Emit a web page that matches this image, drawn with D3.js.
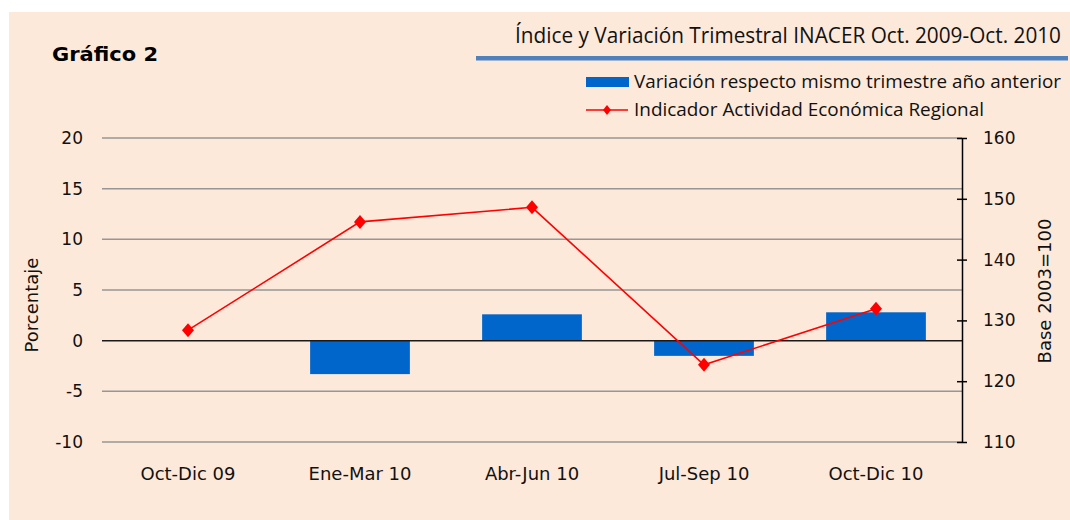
<!DOCTYPE html>
<html>
<head>
<meta charset="utf-8">
<script src="https://cdn.jsdelivr.net/npm/d3@7"></script>
<style>
  html, body { margin: 0; padding: 0; background: #ffffff; }
  svg { display: block; }
  .narrow { font-family: "Open Sans", "Liberation Sans", sans-serif; }
  .verd { font-family: "DejaVu Sans", Verdana, sans-serif; }
</style>
</head>
<body>
<svg id="plot"></svg>
<script>
// quarters and values
const quarters = ["Oct-Dic 09", "Ene-Mar 10", "Abr-Jun 10", "Jul-Sep 10", "Oct-Dic 10"];
const variacion = [null, -3.3, 2.6, -1.5, 2.8];      // % (bars)
const inacer = [128.4, 146.2, 148.6, 122.7, 131.9];  // index (line)
const leftTicks = [-10, -5, 0, 5, 10, 15, 20];
const rightTicks = [110, 120, 130, 140, 150, 160];

const W = 1070, H = 520;
const plot = { left: 102, right: 962, top: 138, bottom: 442 };

const svg = d3.select("#plot").attr("width", W).attr("height", H);

// background panel
svg.append("rect")
  .attr("x", 9).attr("y", 12)
  .attr("width", W - 9).attr("height", H - 12)
  .attr("fill", "#FDE9DA");

const x = d3.scaleBand()
  .domain(quarters)
  .range([plot.left, plot.right])
  .paddingInner(0.42)
  .paddingOuter(0.21);

const y = d3.scaleLinear().domain([-10, 20]).range([plot.bottom, plot.top]);
const y2 = d3.scaleLinear().domain([110, 160]).range([plot.bottom, plot.top]);

// gridlines
svg.append("g")
  .selectAll("line")
  .data(leftTicks.filter(d => d !== 0))
  .join("line")
  .attr("x1", plot.left).attr("x2", plot.right)
  .attr("y1", d => y(d)).attr("y2", d => y(d))
  .attr("stroke", "#969696").attr("stroke-width", 1.5);

// bars
svg.append("g")
  .selectAll("rect")
  .data(quarters.map((q, i) => ({ q, v: variacion[i] })).filter(d => d.v !== null))
  .join("rect")
  .attr("x", d => x(d.q))
  .attr("width", x.bandwidth())
  .attr("y", d => y(Math.max(0, d.v)))
  .attr("height", d => Math.abs(y(d.v) - y(0)))
  .attr("fill", "#0066CC");

// zero line
svg.append("line")
  .attr("x1", plot.left).attr("x2", plot.right)
  .attr("y1", y(0)).attr("y2", y(0))
  .attr("stroke", "#1a1a1a").attr("stroke-width", 1.5);

// left axis labels (no axis line)
const leftAxis = d3.axisLeft(y).tickValues(leftTicks).tickFormat(d => String(d))
  .tickSize(0).tickPadding(19);
svg.append("g")
  .attr("transform", `translate(${plot.left},0)`)
  .call(leftAxis)
  .call(g => g.select(".domain").remove())
  .call(g => g.selectAll("text")
    .attr("class", "verd").attr("font-size", 17).attr("fill", "#111"));

// right axis
const rightAxis = d3.axisRight(y2).tickValues(rightTicks).tickSize(0).tickPadding(21);
const gR = svg.append("g")
  .attr("transform", `translate(${plot.right},0)`)
  .call(rightAxis);
gR.select(".domain").attr("stroke", "#000").attr("stroke-width", 1.5);
gR.selectAll(".tick line").remove();
gR.selectAll(".tick").append("line")
  .attr("x1", -5).attr("x2", 5)
  .attr("stroke", "#000").attr("stroke-width", 1.5);
gR.selectAll("text")
  .attr("class", "verd").attr("font-size", 17).attr("fill", "#111");

// x labels
const xAxis = d3.axisBottom(x).tickSize(0).tickPadding(25);
svg.append("g")
  .attr("transform", `translate(0,${plot.bottom})`)
  .call(xAxis)
  .call(g => g.select(".domain").remove())
  .call(g => g.selectAll("text")
    .attr("class", "verd").attr("font-size", 18).attr("fill", "#111"));

// line series
const cx = q => x(q) + x.bandwidth() / 2;
const lineData = quarters.map((q, i) => ({ q, v: inacer[i] }));
svg.append("path")
  .datum(lineData)
  .attr("fill", "none")
  .attr("stroke", "#FF0000")
  .attr("stroke-width", 1.6)
  .attr("d", d3.line().x(d => cx(d.q)).y(d => y2(d.v)));

// diamond marker, a bit wider than d3.symbolDiamond
const diamondPath = (w, h) => `M0,${-h}L${w},0L0,${h}L${-w},0Z`;
svg.append("g")
  .selectAll("path")
  .data(lineData)
  .join("path")
  .attr("transform", d => `translate(${cx(d.q)},${y2(d.v)})`)
  .attr("d", diamondPath(6, 7))
  .attr("fill", "#FF0000");

// axis titles
svg.append("text")
  .attr("class", "verd")
  .attr("transform", "translate(38,305) rotate(-90)")
  .attr("text-anchor", "middle")
  .attr("font-size", 18).attr("fill", "#111")
  .text("Porcentaje");

svg.append("text")
  .attr("class", "verd")
  .attr("transform", "translate(1051,291) rotate(-90)")
  .attr("text-anchor", "middle")
  .attr("font-size", 18).attr("fill", "#111")
  .text("Base 2003=100");

// titles
svg.append("text")
  .attr("class", "verd")
  .attr("x", 52).attr("y", 61)
  .attr("font-size", 20).attr("font-weight", "bold").attr("fill", "#000")
  .attr("textLength", 106).attr("lengthAdjust", "spacingAndGlyphs")
  .text("Gráfico 2");

svg.append("text")
  .attr("class", "narrow")
  .attr("x", 515).attr("y", 43)
  .attr("font-size", 21).attr("fill", "#111")
  .attr("textLength", 546).attr("lengthAdjust", "spacingAndGlyphs")
  .text("Índice y Variación Trimestral INACER  Oct. 2009-Oct. 2010");

svg.append("rect")
  .attr("x", 476).attr("y", 56)
  .attr("width", 592).attr("height", 4.5)
  .attr("fill", "#4F81BD");

// legend
const leg = svg.append("g").attr("class", "narrow");
leg.append("rect")
  .attr("x", 586).attr("y", 77).attr("width", 43).attr("height", 10)
  .attr("fill", "#0066CC");
leg.append("text")
  .attr("x", 634).attr("y", 88)
  .attr("font-size", 18).attr("fill", "#111")
  .attr("textLength", 427).attr("lengthAdjust", "spacingAndGlyphs")
  .text("Variación respecto mismo trimestre año anterior");
leg.append("line")
  .attr("x1", 586).attr("x2", 628).attr("y1", 110).attr("y2", 110)
  .attr("stroke", "#FF0000").attr("stroke-width", 1.6);
leg.append("path")
  .attr("transform", "translate(607,110)")
  .attr("d", diamondPath(4, 5))
  .attr("fill", "#FF0000");
leg.append("text")
  .attr("x", 634).attr("y", 116)
  .attr("font-size", 18).attr("fill", "#111")
  .attr("textLength", 350).attr("lengthAdjust", "spacingAndGlyphs")
  .text("Indicador Actividad Económica Regional");
</script>
</body>
</html>
